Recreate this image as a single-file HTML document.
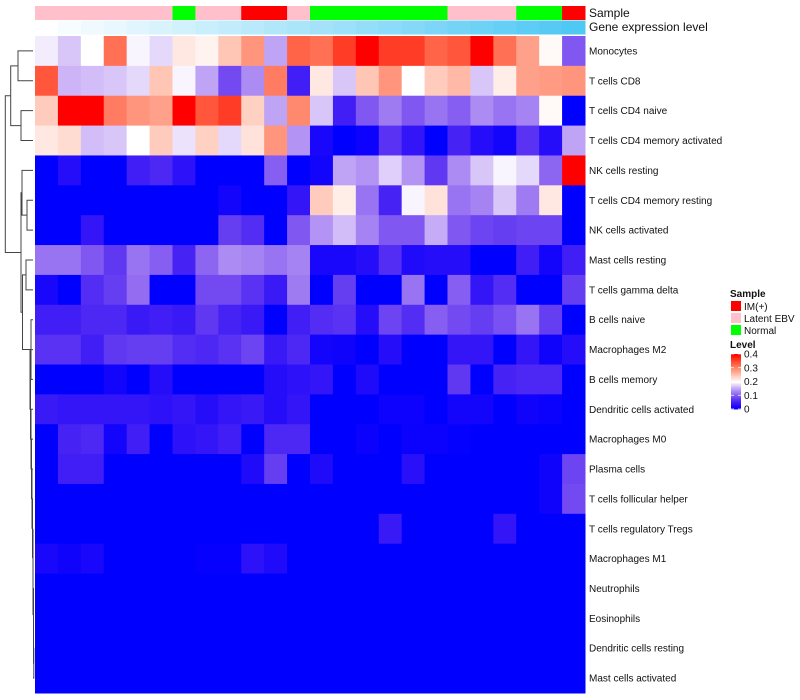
<!DOCTYPE html>
<html><head><meta charset="utf-8"><style>
html,body{margin:0;padding:0;background:#fff;}
svg{display:block;font-family:"Liberation Sans",sans-serif;}
</style></head><body>
<svg id="chart" width="800" height="700"></svg>
<script>
const rows=["Monocytes","T cells CD8","T cells CD4 naive","T cells CD4 memory activated","NK cells resting","T cells CD4 memory resting","NK cells activated","Mast cells resting","T cells gamma delta","B cells naive","Macrophages M2","B cells memory","Dendritic cells activated","Macrophages M0","Plasma cells","T cells follicular helper","T cells regulatory  Tregs","Macrophages M1","Neutrophils","Eosinophils","Dendritic cells resting","Mast cells activated"];
const sampleGroups=["L","L","L","L","L","L","N","L","L","I","I","L","N","N","N","N","N","N","L","L","L","N","N","I"];
const r0=[0.19,0.17,0.2,0.32,0.195,0.18,0.22,0.21,0.25,0.29,0.15,0.33,0.32,0.36,0.4,0.36,0.36,0.33,0.34,0.4,0.32,0.28,0.205,0.1];
const r1=[0.34,0.16,0.165,0.17,0.18,0.25,0.195,0.15,0.09,0.135,0.31,0.05,0.22,0.17,0.25,0.29,0.2,0.245,0.26,0.17,0.215,0.28,0.285,0.29];
const r2=[0.245,0.4,0.4,0.31,0.29,0.28,0.4,0.34,0.36,0.24,0.15,0.3,0.17,0.05,0.1,0.125,0.1,0.12,0.105,0.135,0.12,0.13,0.205,0];
const r3=[0.22,0.23,0.165,0.17,0.2,0.245,0.185,0.24,0.18,0.225,0.29,0.14,0.02,0,0.01,0.07,0.04,0,0.055,0.03,0.015,0.07,0.03,0.15];
const r4=[0,0.03,0,0,0.05,0.06,0.035,0,0,0,0.105,0,0.015,0.15,0.14,0.175,0.14,0.075,0.135,0.17,0.195,0.18,0.11,0.4];
const r5=[0,0,0,0,0,0,0,0,0.015,0,0,0.04,0.245,0.215,0.12,0.055,0.195,0.225,0.12,0.13,0.17,0.125,0.22,0];
const r6=[0,0,0.04,0,0,0,0,0,0.08,0.065,0,0.1,0.14,0.165,0.13,0.1,0.1,0.155,0.1,0.085,0.08,0.085,0.085,0];
const r7=[0.12,0.12,0.1,0.075,0.12,0.105,0.055,0.11,0.135,0.13,0.12,0.13,0.02,0.02,0.03,0.065,0.025,0.03,0.03,0,0,0.05,0.015,0.05];
const r8=[0.02,0,0.065,0.08,0.115,0,0,0.09,0.09,0.07,0.045,0.125,0,0.08,0,0,0.12,0,0.105,0.04,0.065,0,0,0.08];
const r9=[0.05,0.05,0.06,0.06,0.045,0.05,0.045,0.075,0.055,0.045,0,0.05,0.065,0.07,0.03,0.085,0.065,0.105,0.09,0.08,0.095,0.12,0.08,0];
const r10=[0.07,0.07,0.05,0.075,0.08,0.08,0.065,0.06,0.07,0.085,0.045,0.06,0.015,0.012,0,0.03,0,0,0.04,0.04,0,0.04,0.012,0.03];
const r11=[0,0,0,0.015,0,0.03,0,0,0,0,0.03,0.035,0.04,0,0.025,0,0,0,0.075,0,0.055,0.06,0.06,0];
const r12=[0.045,0.04,0.04,0.04,0.04,0.035,0.04,0.03,0.04,0.045,0.03,0.04,0,0,0,0.01,0.01,0,0.015,0.015,0,0.012,0.008,0];
const r13=[0,0.055,0.06,0.015,0.05,0,0.035,0.04,0.05,0,0.06,0.06,0,0,0.008,0,0.008,0.008,0.004,0,0,0,0,0];
const r14=[0,0.05,0.05,0,0,0,0,0,0,0.025,0.08,0,0.025,0,0,0,0.033,0,0,0,0,0,0.012,0.085];
const r15=[0,0,0,0,0,0,0,0,0,0,0,0,0,0,0,0,0,0,0,0,0,0,0.012,0.09];
const r16=[0,0,0,0,0,0,0,0,0,0,0,0,0,0,0,0.045,0,0,0,0,0.04,0,0,0];
const r17=[0.02,0.012,0.02,0,0,0,0,0.005,0.005,0.035,0.025,0,0,0,0,0,0,0,0,0,0,0,0,0];
const r18=[0,0,0,0,0,0,0,0,0,0,0,0,0,0,0,0,0,0,0,0,0,0,0,0];
const r19=[0,0,0,0,0,0,0,0,0,0,0,0,0,0,0,0,0,0,0,0,0,0,0,0];
const r20=[0,0,0,0,0,0,0,0,0,0,0,0,0,0,0,0,0,0,0,0,0,0,0,0];
const r21=[0,0,0,0,0,0,0,0,0,0,0,0,0,0,0,0,0,0,0,0,0,0,0,0];
const values=[r0,r1,r2,r3,r4,r5,r6,r7,r8,r9,r10,r11,r12,r13,r14,r15,r16,r17,r18,r19,r20,r21];
const legendTicks=[0,0.1,0.2,0.3,0.4];
const sampleNames={I:"IM(+)",L:"Latent EBV",N:"Normal"};
const sampleColors={I:"#ff0000",L:"#ffc0cb",N:"#00ff00"};

const NS="http://www.w3.org/2000/svg";
const svgEl=document.getElementById('chart');
const X0=35,X1=585,Y0=36,Y1=693;
const nC=values[0].length,nR=rows.length;
const cw=(X1-X0)/nC,rh=(Y1-Y0)/nR;
const xs=c=>X0+c*cw, ys=r=>Y0+r*rh;
const VMAX=0.4;
function col(v){
  let t=Math.max(0,Math.min(1,v/VMAX));
  if(t<0.5){const s=t/0.5;return `rgb(${Math.round(255*s)},${Math.round(255*Math.pow(s,1.55))},${Math.round(255-14*Math.sin(Math.PI*s))})`;}
  const s=(t-0.5)/0.5;return `rgb(255,${Math.round(255*Math.pow(1-s,0.9))},${Math.round(255*Math.pow(1-s,1.2))})`;
}
function mk(tag,attrs,parent){const e=document.createElementNS(NS,tag);for(const k in attrs)e.setAttribute(k,attrs[k]);(parent||svgEl).appendChild(e);return e;}

sampleGroups.forEach((grp,c)=>{
  const e=mk('rect',{x:xs(c),y:6,width:cw+0.5,height:14,fill:sampleColors[grp]});
  
  
  const t=c/(nC-1);
  const e2=mk('rect',{x:xs(c),y:20.5,width:cw+0.5,height:14,fill:`rgb(${Math.round(255-176*t)},${Math.round(255-55*t)},${Math.round(255-11*t)})`});
  
  
});
let t1=mk('text',{x:589,y:17,'font-size':12,fill:'#111'});t1.textContent='Sample';


let t2=mk('text',{x:589,y:31,'font-size':12,fill:'#111'});t2.textContent='Gene expression level';



values.forEach((row,r)=>{
  row.forEach((v,c)=>{
    const e=mk('rect',{x:xs(c),y:ys(r),width:cw+0.5,height:rh+0.5,fill:col(v)});
    
    
  });
  const t=mk('text',{x:589,y:ys(r)+rh/2+3.5,'font-size':10,fill:'#111'});
  t.textContent=rows[r];
  
  
});

const dg=mk('g',{stroke:'#444','stroke-width':1,fill:'none'});


const leaf=r=>({x:33,y:ys(r)+rh/2});
function merge(a,b,x){mk('path',{d:`M${a.x},${a.y}H${x}V${b.y}H${b.x}`},dg);return {x:x,y:(a.y+b.y)/2};}
const clA=merge(leaf(0),leaf(1),18);
const clB=merge(leaf(2),leaf(3),21);
const topCluster=merge(clA,clB,10.7);
const n56=merge(leaf(5),leaf(6),27);
const n456=merge(leaf(4),n56,22);
let chain=leaf(21);
const chainX=[31,30,30.5,31,31.5,32,32.5,33,33,33.5,33.5,33.8];
for(let r=20,i=11;r>=9;r--,i--){chain=merge(leaf(r),chain,chainX[i]);}
const n78=merge(leaf(7),leaf(8),26);
const lowCl=merge(n78,chain,22.5);
const lowAll=merge(n456,lowCl,21);
merge(topCluster,lowAll,5.3);

const lg=mk('g',{});


let lt=mk('text',{x:730,y:297,'font-size':10,'font-weight':'bold',fill:'#111'},lg);lt.textContent='Sample';
["I","L","N"].forEach((k,i)=>{
  const r=mk('rect',{x:731,y:301+i*12,width:10,height:10,fill:sampleColors[k]},lg);
  
  
  const t=mk('text',{x:744,y:310+i*12,'font-size':10,fill:'#111'},lg);t.textContent=sampleNames[k];
  
  
});
let lv=mk('text',{x:730,y:348,'font-size':10,'font-weight':'bold',fill:'#111'},lg);lv.textContent='Level';
const by0=354,by1=409,steps=40;
for(let i=0;i<steps;i++){
  const v=VMAX*(1-i/steps);
  mk('rect',{x:731,y:by0+(by1-by0)*i/steps,width:10,height:(by1-by0)/steps+0.5,fill:col(v)},lg);
}
legendTicks.forEach(v=>{
  const y=by1-(by1-by0)*v/VMAX;
  mk('line',{x1:731,x2:734,y1:y,y2:y,stroke:'#fff','stroke-width':0.7},lg);
  mk('line',{x1:738,x2:741,y1:y,y2:y,stroke:'#fff','stroke-width':0.7},lg);
  const t=mk('text',{x:744,y:y+3.5,'font-size':10,fill:'#111'},lg);t.textContent=String(v);
  
  
});
</script>
</body></html>
